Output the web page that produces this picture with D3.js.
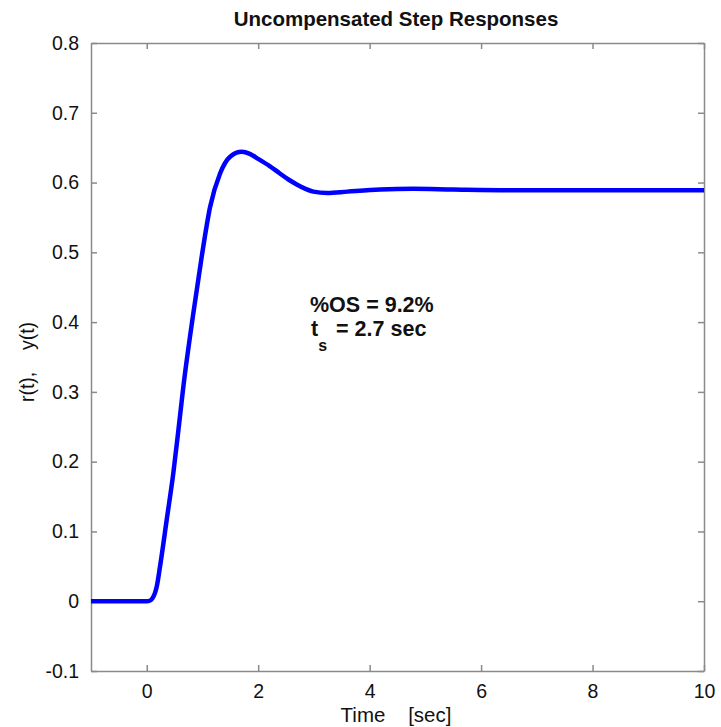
<!DOCTYPE html>
<meta charset="utf-8">
<head>
  <title>Uncompensated Step Responses</title>
  <script src="https://cdn.jsdelivr.net/npm/d3@7"></script>
  <style>
    body { margin: 0; background: #fff; }
    text { font-family: "Liberation Sans", Arial, sans-serif; fill: #111; }
    .axis path, .axis line { stroke: #8a8a8a; stroke-width: 1.5; }
  </style>
</head>
<body>
<div id="chart"></div>
<script>
// step response
var time = [-1, 0, 0.06, 0.1, 0.149, 0.18, 0.239, 0.359, 0.478, 0.568, 0.658, 0.837, 0.987, 1.137, 1.316, 1.496, 1.706,
            1.85, 2.0, 2.2, 2.39, 2.55, 2.7, 2.85, 2.99, 3.24, 3.6, 4.19, 4.78, 5.5, 6.5, 8, 10];
var response = [0, 0, 0.001, 0.004, 0.012, 0.021, 0.05, 0.117, 0.184, 0.245, 0.308, 0.413, 0.494, 0.565, 0.613, 0.637, 0.644,
                0.641, 0.634, 0.624, 0.613, 0.604, 0.597, 0.591, 0.587, 0.585, 0.587, 0.590, 0.591, 0.590, 0.589, 0.589, 0.589];
var xTicks = [0, 2, 4, 6, 8, 10];
var yTicks = [-0.1, 0, 0.1, 0.2, 0.3, 0.4, 0.5, 0.6, 0.7, 0.8];

var w = 721, h = 727;
var mLeft = 91, mRight = 704, mTop = 43, mBottom = 671;

var svg = d3.select("#chart").append("svg").attr("width", w).attr("height", h);

var x = d3.scaleLinear().domain([-1, 10]).range([mLeft, mRight]);
var y = d3.scaleLinear().domain([-0.1, 0.8]).range([mBottom, mTop]);

// axes with inward ticks, box all round
svg.append("g").attr("class", "axis").attr("transform", "translate(0," + mBottom + ")")
  .call(d3.axisBottom(x).tickValues(xTicks).tickSize(-6).tickSizeOuter(0).tickPadding(12))
  .selectAll("text").attr("font-size", 19.5).attr("dy", "0.75em");
svg.append("g").attr("class", "axis").attr("transform", "translate(0," + mTop + ")")
  .call(d3.axisTop(x).tickValues(xTicks).tickSize(-6).tickSizeOuter(0).tickFormat(""));
svg.append("g").attr("class", "axis").attr("transform", "translate(" + mLeft + ",0)")
  .call(d3.axisLeft(y).tickValues(yTicks).tickSize(-6).tickSizeOuter(0).tickPadding(12)
    .tickFormat(function(d){ return d3.format("")(d).replace("\u2212", "-"); }))
  .selectAll("text").attr("font-size", 19.5);
svg.append("g").attr("class", "axis").attr("transform", "translate(" + mRight + ",0)")
  .call(d3.axisRight(y).tickValues(yTicks).tickSize(-6).tickSizeOuter(0).tickFormat(""));
svg.selectAll(".axis text").style("fill", "#111").attr("font-family", "Liberation Sans, Arial, sans-serif");

var line = d3.line().x(function(d, i){ return x(time[i]); }).y(function(d){ return y(d); })
  .curve(d3.curveMonotoneX);

svg.append("path").datum(response)
  .attr("d", line)
  .attr("fill", "none")
  .attr("stroke", "#0000ff")
  .attr("stroke-width", 4.5)
  .attr("stroke-linejoin", "round");

// title and labels
svg.append("text").attr("x", 396).attr("y", 26).attr("text-anchor", "middle")
  .attr("font-size", 20.5).attr("font-weight", "bold").text("Uncompensated Step Responses");
svg.append("text").attr("x", 396).attr("y", 722).attr("text-anchor", "middle")
  .attr("font-size", 20.5).attr("xml:space", "preserve").text("Time    [sec]");
svg.append("text").attr("transform", "translate(34,362) rotate(-90)").attr("text-anchor", "middle")
  .attr("font-size", 19.5).attr("xml:space", "preserve").text("r(t),    y(t)");

// annotation
svg.append("text").attr("x", 310).attr("y", 312).attr("font-size", 21.5).attr("font-weight", "bold")
  .text("%OS = 9.2%");
var ts = svg.append("text").attr("x", 311).attr("y", 336).attr("font-size", 21.5).attr("font-weight", "bold");
ts.append("tspan").text("t");
ts.append("tspan").attr("font-size", 16).attr("dy", 15).text("s");
ts.append("tspan").attr("dy", -15).attr("dx", 9).text("= 2.7 sec");
</script>
</body>
</html>
